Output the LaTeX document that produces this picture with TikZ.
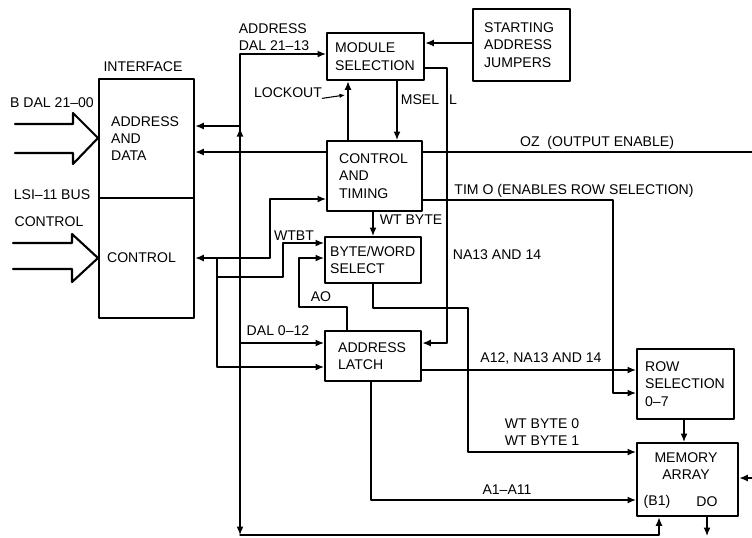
\documentclass[tikz,border=0pt]{standalone}
\usepackage{fontspec}
\setmainfont{Liberation Sans}
\usetikzlibrary{arrows.meta}

\begin{document}
\begin{tikzpicture}[
  x=0.2mm,
  y=-0.2mm,
  line cap=round,
  line join=round,
  font=\fontsize{8}{9.8}\selectfont,
  mem box/.style={draw=black, line width=1.3pt, anchor=north west,
    align=left, inner ysep=0pt},
  mem line/.style={draw=black, line width=0.8pt},
  mem arrow/.style={mem line, -{Latex[length=1.7mm, width=1.4mm]}},
  mem both/.style={mem line,
    {Latex[length=1.7mm, width=1.4mm]}-{Latex[length=1.7mm, width=1.4mm]}},
  mem bus/.style={draw=black, line width=1.2pt},
  mem lead/.style={draw=black, line width=0.6pt,
    -{Latex[length=1.1mm, width=0.9mm]}},
  mem label/.style={inner sep=0pt, align=left}
]
  \useasboundingbox (0,0) rectangle (752,537);

  % Interface to the LSI-11 bus, in two sections.
  \node[mem box, minimum width=19mm, minimum height=23.8mm,
    inner xsep=2.4mm, text width=14.2mm] (ifaddr) at (98,78)
    {ADDRESS\\AND\\DATA};
  \node[mem box, minimum width=19mm, minimum height=24mm,
    inner xsep=1.6mm, text width=15.8mm] (ifctrl) at (98,197)
    {CONTROL};

  % Blocks of the memory module.
  \node[mem box, minimum width=19.4mm, minimum height=9.4mm,
    inner xsep=1.6mm, text width=16.2mm] (modsel) at (326,32)
    {MODULE\\SELECTION};
  \node[mem box, minimum width=19.4mm, minimum height=14.4mm,
    inner xsep=2.2mm, text width=15mm] (jumpers) at (472,8)
    {STARTING\\ADDRESS\\JUMPERS};
  \node[mem box, minimum width=19mm, minimum height=14mm,
    inner xsep=2.4mm, text width=14.2mm] (ctltim) at (326,140)
    {CONTROL\\AND\\TIMING};
  \node[mem box, minimum width=19.2mm, minimum height=9.2mm,
    inner xsep=1mm, text width=17.2mm] (bytesel) at (324,236)
    {BYTE/WORD\\SELECT};
  \node[mem box, minimum width=19.2mm, minimum height=10mm,
    inner xsep=2.6mm, text width=14mm] (addrlat) at (324,330)
    {ADDRESS\\LATCH};
  \node[mem box, minimum width=19.4mm, minimum height=14mm,
    inner xsep=1.6mm, text width=16.2mm] (rowsel) at (636,348)
    {ROW\\SELECTION\\0–7};
  \node[mem box, minimum width=20.2mm, minimum height=14.6mm] (memarr)
    at (636,442) {};
  \node[mem label, align=center] (memtxt) at (686,466) {MEMORY\\ARRAY};
  \node[mem label] (b1) at (657,502) {(B1)};
  \node[mem label] (dout) at (707,502) {DO};

  % Wide bus arrows entering the interface.
  \draw[mem bus] (15,124) -- (73,124) -- (73,113) -- (ifaddr.west |- 0,138)
    -- (73,164) -- (73,153) -- (15,153);
  \draw[mem bus] (13,243) -- (72,243) -- (72,234) -- (ifctrl.west |- 0,258)
    -- (72,282) -- (72,269) -- (13,269);

  % Address bus running down the left of the blocks.
  \coordinate (bustop) at (240,54);
  \coordinate (busbot) at (240,535);
  \coordinate (adjoin) at (240,126);
  \coordinate (daljoin) at (240,343);
  \draw[mem arrow] (bustop) -- (bustop -| modsel.west);
  \draw[mem arrow] (bustop) -- (busbot);
  \draw[mem arrow] (240,140) -- (240,128);
  \draw[mem arrow] (adjoin) -- (adjoin -| ifaddr.east);
  \draw[mem arrow] (daljoin) -- (daljoin -| addrlat.west);
  \draw[mem arrow] (busbot) -| (memarr.south -| 659,0);

  % Module selection and timing.
  \draw[mem arrow] (jumpers.west |- 0,43) -- (modsel.east |- 0,43);
  \draw[mem arrow] (modsel.south -| 397,0) -- (ctltim.north -| 397,0);
  \draw[mem arrow] (ctltim.north -| 348,0) -- (modsel.south -| 348,0);
  \draw[mem arrow] (modsel.east |- 0,68) -| (447,343)
    -- (addrlat.east |- 0,343);
  \draw[mem arrow] (ctltim.west |- 0,152) -- (ifaddr.east |- 0,152);
  \draw[mem line] (ctltim.east |- 0,152) -- (752,152);
  \draw[mem arrow] (ctltim.east |- 0,200) -| (613,393)
    -- (rowsel.west |- 0,393);
  \draw[mem arrow] (ctltim.south -| 373,0) -- (bytesel.north -| 373,0);

  % Control lines from the interface.
  \coordinate (ctljoin) at (217,258);
  \coordinate (wtjoin) at (217,277);
  \draw[mem both] (ifctrl.east |- ctljoin) -| (270,199)
    -- (ctltim.west |- 0,199);
  \draw[mem arrow] (ctljoin) |- (addrlat.west |- 0,367);
  \draw[mem arrow] (wtjoin) -| (283,243) -- (bytesel.west |- 0,243);
  \draw[mem arrow] (addrlat.north -| 347,0) |- (299,307)
    |- (bytesel.west |- 0,258);

  % Paths into row selection and the memory array.
  \draw[mem arrow] (bytesel.south -| 373,0) |- (468,308)
    |- (memarr.west |- 0,452);
  \draw[mem arrow] (addrlat.east |- 0,370) -- (rowsel.west |- 0,370);
  \draw[mem arrow] (addrlat.south -| 371,0) |- (memarr.west |- 0,500);
  \draw[mem arrow] (rowsel.south -| 684,0) -- (memarr.north -| 684,0);
  \draw[mem arrow] (752,478) -- (memarr.east |- 0,478);
  \draw[mem arrow] (memarr.south -| 707,0) -- (707,536);

  % Signal names.
  \node[mem label] (iflbl) at (143,67) {INTERFACE};
  \node[mem label] (bdal) at (52,103) {B DAL 21–00};
  \node[mem label] (lsibus) at (52,195) {LSI–11 BUS};
  \node[mem label] (ctlin) at (49,222) {CONTROL};
  \node[mem label] (busadr) at (274,37) {ADDRESS\\DAL 21–13};
  \node[mem label] (lock) at (288,93) {LOCKOUT};
  \draw[mem lead] (lock.south east) -- (345,95);
  \node[mem label] (msela) at (420,100) {MSEL};
  \node[mem label] (mselb) at (453,100) {L};
  \node[mem label] (ozlbl) at (597,143) {OZ\ \ (OUTPUT ENABLE)};
  \node[mem label] (timlbl) at (574,191) {TIM O (ENABLES ROW SELECTION)};
  \node[mem label] (wtbyte) at (411,220) {WT BYTE};
  \node[mem label] (wtbt) at (294,236) {WTBT};
  \node[mem label] (na13) at (497,255) {NA13 AND 14};
  \node[mem label] (azero) at (321,297) {AO};
  \node[mem label] (dal) at (278,331) {DAL 0–12};
  \node[mem label] (a12) at (541,358) {A12, NA13 AND 14};
  \node[mem label] (wtb01) at (542,432) {WT BYTE 0\\WT BYTE 1};
  \node[mem label] (a111) at (507,490) {A1–A11};
\end{tikzpicture}
\end{document}
